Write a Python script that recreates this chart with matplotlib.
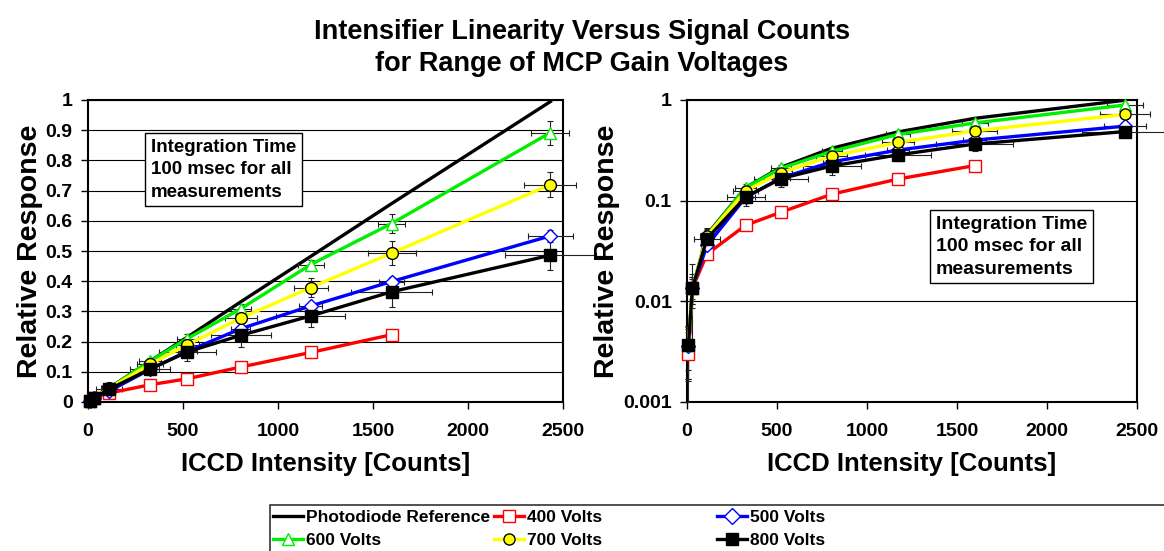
import matplotlib
matplotlib.use('Agg')
import matplotlib.pyplot as plt
from matplotlib.lines import Line2D
from matplotlib.patches import Rectangle
from matplotlib.ticker import FuncFormatter, NullLocator, MultipleLocator

plt.rcParams['font.family'] = ['Liberation Sans', 'DejaVu Sans']
plt.rcParams['font.weight'] = 'bold'

# ICCD intensity (counts) at each measurement
counts = [8, 30, 111, 326, 523, 805, 1172, 1598, 2434]
counts_400 = counts[:8]

# relative response
ref = [0.0034, 0.0132, 0.046, 0.135, 0.215, 0.332, 0.482, 0.657, 0.995]
v400 = [0.003, 0.0135, 0.0295, 0.057, 0.077, 0.116, 0.164, 0.223]
v500 = [0.0036, 0.0135, 0.036, 0.108, 0.168, 0.243, 0.318, 0.399, 0.55]
v600 = [0.0037, 0.0135, 0.045, 0.135, 0.21, 0.309, 0.455, 0.591, 0.892]
v700 = [0.0037, 0.0135, 0.045, 0.125, 0.19, 0.278, 0.379, 0.493, 0.72]
v800 = [0.0037, 0.0135, 0.042, 0.109, 0.166, 0.221, 0.285, 0.365, 0.486]

# error bars (x in counts, y in relative response)
xerr400 = [3, 6, 15, 20, 20, 25, 25, 30]
yerr400 = [0.002, 0.003, 0.003, 0.003, 0.004, 0.004, 0.005, 0.006]
xerr500 = [3, 8, 30, 50, 50, 50, 60, 65, 116]
yerr500 = [0.002, 0.004, 0.004, 0.006, 0.008, 0.01, 0.01, 0.015, 0.02]
xerr600 = [3, 8, 35, 60, 55, 54, 68, 73, 100]
yerr600 = [0.002, 0.004, 0.006, 0.01, 0.015, 0.015, 0.015, 0.03, 0.04]
xerr700 = [3, 8, 40, 70, 60, 86, 90, 126, 137]
yerr700 = [0.002, 0.005, 0.008, 0.015, 0.02, 0.03, 0.03, 0.04, 0.04]
xerr800 = [5, 15, 70, 105, 150, 160, 183, 215, 240]
yerr800 = [0.0016, 0.01, 0.01, 0.02, 0.03, 0.04, 0.035, 0.05, 0.05]

series = [
    ('400 Volts', counts_400, v400, xerr400, yerr400, 'red', 's', 'white'),
    ('500 Volts', counts, v500, xerr500, yerr500, 'blue', 'D', 'white'),
    ('600 Volts', counts, v600, xerr600, yerr600, '#00ee00', '^', 'white'),
    ('700 Volts', counts, v700, xerr700, yerr700, '#ffff00', 'o', '#ffff00'),
    ('800 Volts', counts, v800, xerr800, yerr800, 'black', 's', 'black'),
]

box_text = 'Integration Time\n100 msec for all\nmeasurements'

fig = plt.figure(figsize=(11.64, 5.51), dpi=100)
ax1 = fig.add_axes([88/1164, 1-402/551, 475/1164, 302/551])
ax2 = fig.add_axes([687/1164, 1-402/551, 450/1164, 302/551])

def draw(ax, ms):
    ax.plot(counts, ref, color='black', lw=2.4, zorder=3)
    for name, x, y, xe, ye, c, mk, fc in series:
        ax.errorbar(x, y, xerr=xe, yerr=ye, fmt='none', ecolor='#222222',
                    elinewidth=0.8, capsize=2.5, capthick=0.8, zorder=4, clip_on=False)
        mec = 'black' if c in ('#ffff00', 'black') else c
        m = ms - 1 if mk == 'D' else ms
        ax.plot(x, y, color=c, lw=2.4, marker=mk, ms=m, mfc=fc, mec=mec,
                mew=1.0, zorder=5, clip_on=False)
    for s in ax.spines.values():
        s.set_linewidth(1.5)
    ax.tick_params(direction='out', length=5, width=1, labelsize=14)
    ax.tick_params(axis='x', pad=10)
    ax.tick_params(axis='y', pad=6)
    for lbl in ax.get_xticklabels() + ax.get_yticklabels():
        lbl.set_fontweight('bold')
    ax.set_xlabel('ICCD Intensity [Counts]', fontsize=18.5, fontweight='bold', labelpad=9)
    ax.set_ylabel('Relative Response', fontsize=20.5, fontweight='bold', labelpad=2)
    ax.set_xlim(0, 2500)
    ax.xaxis.set_major_locator(MultipleLocator(500))

# left: linear
draw(ax1, 8.5)
ax1.set_ylim(0, 1)
ax1.yaxis.set_major_locator(MultipleLocator(0.1))
ax1.yaxis.set_major_formatter(FuncFormatter(lambda v, p: '%g' % round(v, 2)))
ax1.yaxis.grid(True, color='black', lw=0.8)
ax1.set_axisbelow(True)
ax1.text(330, 0.872, box_text, fontsize=13.5, fontweight='bold', va='top', ha='left',
         linespacing=1.42, zorder=6,
         bbox=dict(boxstyle='square,pad=0.3', fc='white', ec='black', lw=1))

# right: log
draw(ax2, 8)
ax2.set_yscale('log')
ax2.set_ylim(0.001, 1)
ax2.yaxis.set_minor_locator(NullLocator())
ax2.yaxis.set_major_formatter(FuncFormatter(lambda v, p: '%g' % v))
ax2.yaxis.grid(True, color='black', lw=0.8)
ax2.set_axisbelow(True)
ax2.text(1381, 0.071, box_text, fontsize=14, fontweight='bold', va='top', ha='left',
         linespacing=1.42, zorder=6,
         bbox=dict(boxstyle='square,pad=0.3', fc='white', ec='black', lw=1))

fig.suptitle('Intensifier Linearity Versus Signal Counts\nfor Range of MCP Gain Voltages',
             fontsize=19.5, fontweight='bold', y=0.965, linespacing=1.3)

# legend at the bottom
def handle(c, mk, fc):
    if mk is None:
        return Line2D([], [], color=c, lw=2.4)
    mec = 'black' if c in ('#ffff00', 'black') else c
    return Line2D([], [], color=c, lw=2.4, marker=mk, ms=8, mfc=fc, mec=mec, mew=1.0)

cols = [
    (273, [('Photodiode Reference', handle('black', None, None)),
           ('600 Volts', handle('#00ee00', '^', 'white'))]),
    (494, [('400 Volts', handle('red', 's', 'white')),
           ('700 Volts', handle('#ffff00', 'o', '#ffff00'))]),
    (717, [('500 Volts', handle('blue', 'D', 'white')),
           ('800 Volts', handle('black', 's', 'black'))]),
]
for x0, items in cols:
    fig.legend([h for _, h in items], [t for t, _ in items], loc='center left',
               bbox_to_anchor=(x0/1164, 1-529/551), frameon=False, borderpad=0,
               borderaxespad=0, handlelength=1.7, handletextpad=0.2,
               labelspacing=0.42, prop={'size': 12.5, 'weight': 'bold'})
fig.patches.append(Rectangle((270/1164, -0.05), 1.0, 0.05 + 1-505/551, transform=fig.transFigure,
                             fill=False, ec='#333333', lw=1.2))

fig.savefig('out.png', dpi=100)
